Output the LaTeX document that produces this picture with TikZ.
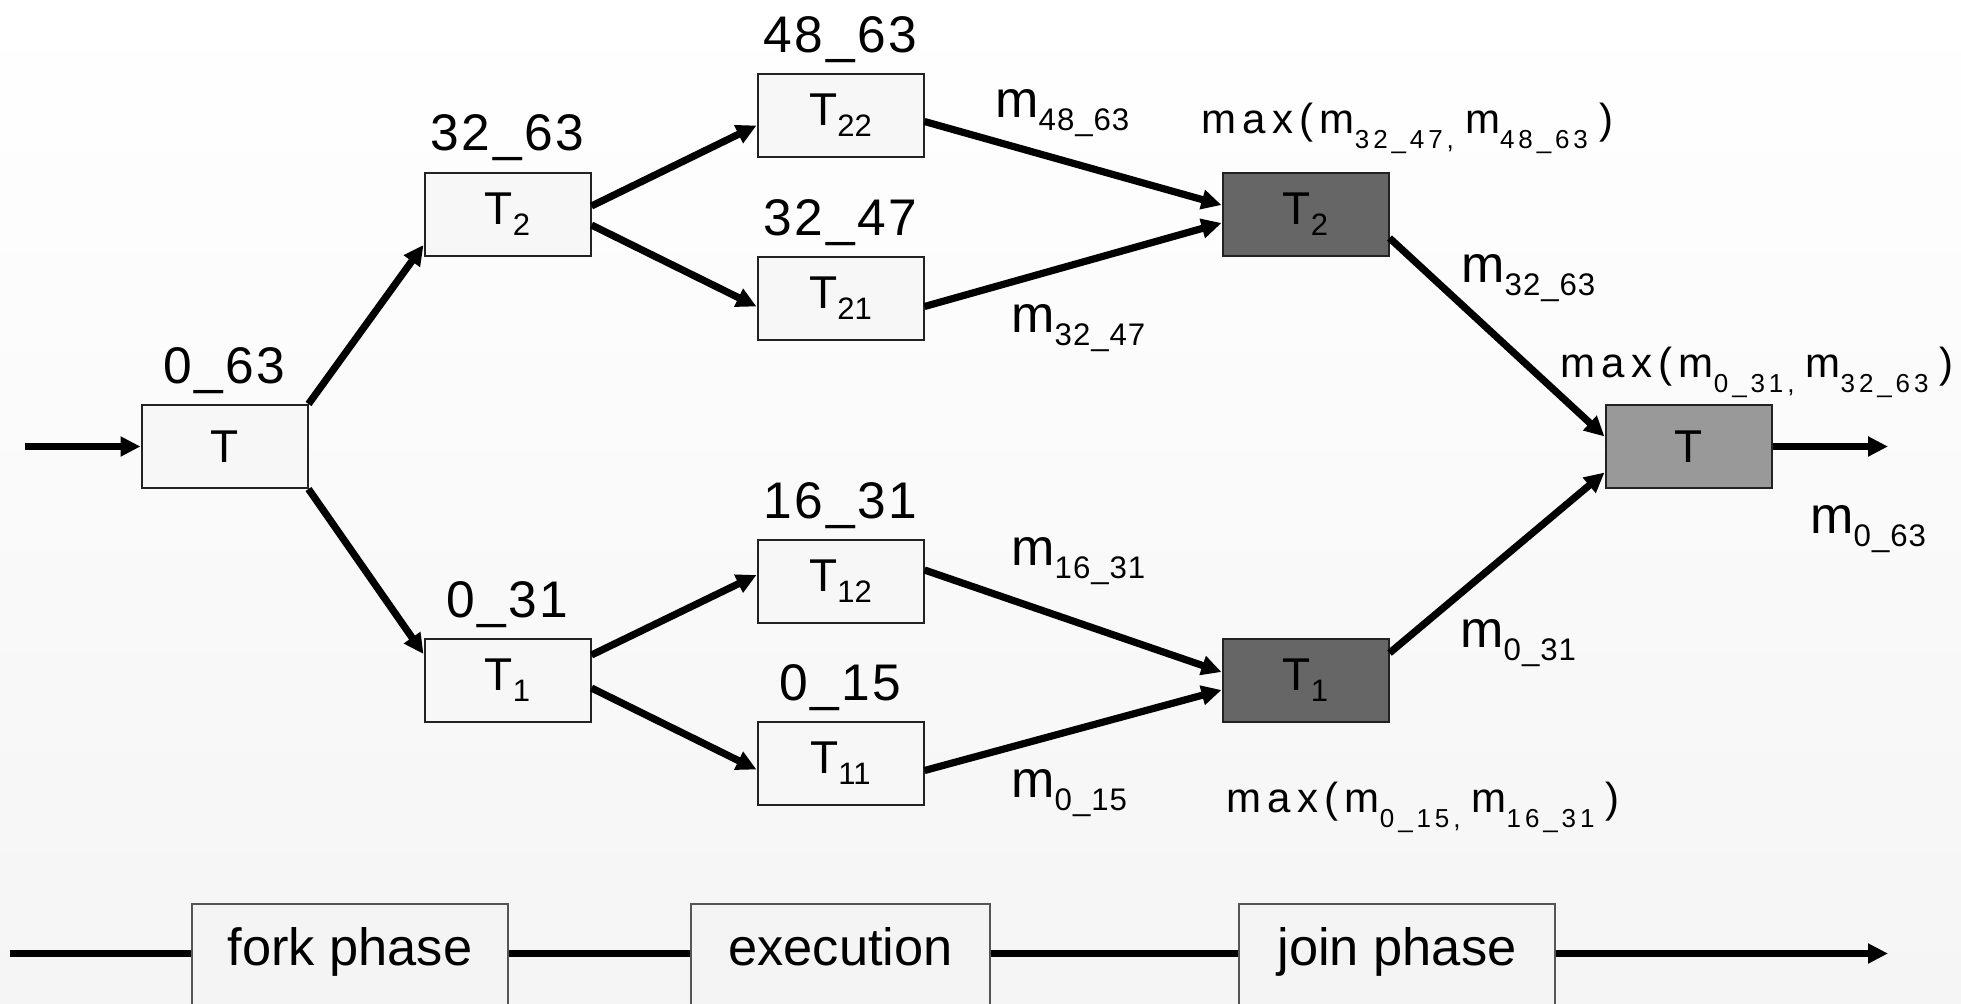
\documentclass[tikz,border=0pt]{standalone}
\usepackage{fontspec}
\setmainfont{Liberation Sans}
\newfontfamily\rangefont[LetterSpace=5]{Liberation Sans}
\newfontfamily\msgfont[LetterSpace=3]{Liberation Sans}
\newfontfamily\maxfont[LetterSpace=15]{Liberation Sans}
\usetikzlibrary{arrows.meta,calc}

% subscripted labels: task names, messages, and the max() expressions
\newcommand\Tsub[1]{T\raisebox{-5.5pt}{\fontsize{15.5pt}{16pt}\selectfont #1}}
\newcommand\msub[1]{m\raisebox{-6.5pt}{\fontsize{15.6pt}{16pt}\selectfont #1}}
\newcommand\xsub[1]{m\raisebox{-7.5pt}{\fontsize{13pt}{14pt}\selectfont #1}}

\definecolor{bgbot}{HTML}{F5F5F5}
\definecolor{boxfill}{HTML}{F7F7F7}
\definecolor{boxline}{HTML}{222222}
\definecolor{joinfill}{HTML}{666666}
\definecolor{rootfill}{HTML}{999999}
\definecolor{phasefill}{HTML}{F4F4F4}
\definecolor{phaseline}{HTML}{555555}

\begin{document}
\begin{tikzpicture}[x=0.5pt,y=-0.5pt,
  task/.style={draw=boxline, line width=1pt, fill=boxfill,
    minimum width=83pt, minimum height=41.5pt, inner sep=0pt,
    font=\fontsize{23pt}{24pt}\selectfont},
  joinbox/.style={task, fill=joinfill},
  rootbox/.style={task, fill=rootfill},
  flow/.style={line width=3.6pt, -{Triangle[length=10pt,width=9.5pt]}},
  idxrange/.style={anchor=base, inner sep=0pt,
    font=\rangefont\fontsize{25.75pt}{26pt}\selectfont},
  msg/.style={anchor=base west, inner sep=0pt,
    font=\msgfont\fontsize{26pt}{27pt}\selectfont},
  maxlbl/.style={anchor=base west, inner sep=0pt,
    font=\maxfont\fontsize{21pt}{22pt}\selectfont},
  phase/.style={draw=phaseline, line width=0.7pt, fill=phasefill,
    anchor=base, inner sep=0pt, text height=30.5pt, text depth=22.5pt,
    font=\fontsize{26.2pt}{27pt}\selectfont}
]
\useasboundingbox (0,0) rectangle (1961,1003);
\clip (0,0) rectangle (1961,1003);

% background
\fill[top color=white, bottom color=bgbot] (0,0) rectangle (1961,1003);

% tasks
\node[task]     (T)   at (224.5,446.5) {T};
\node[task]     (T2f) at (507.5,214)   {\Tsub{2}};
\node[task]     (T1f) at (507.5,680)   {\Tsub{1}};
\node[task]     (T22) at (840.5,115.5) {\Tsub{22}};
\node[task]     (T21) at (840.5,298.5) {\Tsub{21}};
\node[task]     (T12) at (840.5,581)   {\Tsub{12}};
\node[task]     (T11) at (840.5,763.5) {\Tsub{11}};
\node[joinbox]  (J2)  at (1305.5,214)  {\Tsub{2}};
\node[joinbox]  (J1)  at (1305.5,680)  {\Tsub{1}};
\node[rootbox]  (F)   at (1688.5,446.5) {T};

\coordinate (inpt)  at (25,446.5);
\coordinate (outpt) at (1888,446.5);

% fork
\draw[flow] (inpt) -- (T.west);
\draw[flow] (T.north east) -- ($(T2f.west)+(0,31)$);
\draw[flow] (T.south east) -- ($(T1f.west)+(0,-26)$);
\draw[flow] ($(T2f.east)+(0,-8)$) -- ($(T22.west)+(0,10)$);
\draw[flow] ($(T2f.east)+(0,11)$) -- ($(T21.west)+(0,8)$);
\draw[flow] ($(T1f.east)+(0,-25)$) -- ($(T12.west)+(0,-6)$);
\draw[flow] ($(T1f.east)+(0,8)$) -- ($(T11.west)+(0,6)$);

% join
\draw[flow] ($(T22.east)+(0,6)$) -- ($(J2.west)+(0,-9)$);
\draw[flow] ($(T21.east)+(0,8)$) -- ($(J2.west)+(0,9)$);
\draw[flow] ($(T12.east)+(0,-11)$) -- ($(J1.west)+(0,-8)$);
\draw[flow] ($(T11.east)+(0,7)$) -- ($(J1.west)+(0,10)$);
\draw[flow] ($(J2.east)+(0,24)$) -- ($(F.west)+(0,-10)$);
\draw[flow] ($(J1.east)+(0,-27)$) -- ($(F.west)+(0,26)$);
\draw[flow] (F.east) -- (outpt);

% index ranges
\node[idxrange] (r063)  at (224.5,383) {0\_63};
\node[idxrange] (r3263) at (507.5,150) {32\_63};
\node[idxrange] (r031)  at (507.5,617) {0\_31};
\node[idxrange] (r4863) at (840.5,52)  {48\_63};
\node[idxrange] (r3247) at (840.5,235) {32\_47};
\node[idxrange] (r1631) at (840.5,518) {16\_31};
\node[idxrange] (r015)  at (840.5,700) {0\_15};

% messages
\node[msg] (m4863) at (995,117)  {\msub{48\_63}};
\node[msg] (m3247) at (1011,332) {\msub{32\_47}};
\node[msg] (m1631) at (1011,565) {\msub{16\_31}};
\node[msg] (m015)  at (1011,797) {\msub{0\_15}};
\node[msg] (m3263) at (1461,282) {\msub{32\_63}};
\node[msg] (m031)  at (1460,647) {\msub{0\_31}};
\node[msg] (m063)  at (1810,533) {\msub{0\_63}};

% combined results
\node[maxlbl] (x2) at (1201,133) {max(\xsub{32\_47,\ }\xsub{48\_63\ })};
\node[maxlbl] (x0) at (1560,377) {max(\xsub{0\_31,\ }\xsub{32\_63\ })};
\node[maxlbl] (x1) at (1226,812) {max(\xsub{0\_15,\ }\xsub{16\_31\ })};

% phase timeline
\coordinate (tlstart) at (10,953.5);
\coordinate (tlend)   at (1888,953.5);
\draw[flow] (tlstart) -- (tlend);
\node[phase, minimum width=158pt]   (pfork) at (350,965)   {fork phase};
\node[phase, minimum width=149.5pt] (pexec) at (840.5,965) {execution};
\node[phase, minimum width=158pt]   (pjoin) at (1397,965)  {join phase};
\end{tikzpicture}
\end{document}
